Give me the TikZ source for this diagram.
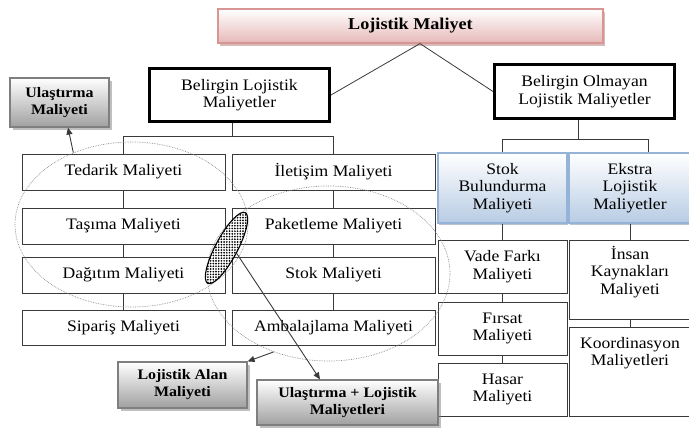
\documentclass[tikz,border=0pt]{standalone}
\usepackage{fontspec}
\setmainfont{Liberation Serif}[FakeStretch=1.1]
\usetikzlibrary{arrows.meta,shapes.geometric,patterns.meta,shadows,calc}

\definecolor{pinkB}{HTML}{D99594}
\definecolor{pinkF}{HTML}{E6B9B8}
\definecolor{blueB}{HTML}{95B3D7}
\definecolor{blueF}{HTML}{B8CCE4}
\definecolor{grayB}{HTML}{7F7F7F}
\definecolor{grayF}{HTML}{A0A0A0}
\definecolor{lineC}{HTML}{3A3A3A}

% fine dot texture for the overlap region
\tikzdeclarepattern{
  name=densedots,
  type=uncolored,
  bottom left={(-1.2pt,-1.2pt)},
  top right={(1.2pt,1.2pt)},
  tile size={(2.7pt,2.7pt)},
  code={\fill (0pt,0pt) circle [radius=0.95pt];}
}

\tikzset{
  txt/.style={font=\fontsize{16}{17.5}\selectfont},
  boldtxt/.style={font=\fontsize{14.5}{17}\selectfont\bfseries},
  box/.style={draw=lineC, line width=0.8pt, fill=white, inner sep=0pt,
    align=center, txt},
  thickbox/.style={box, draw=black, line width=3pt},
  pinkbox/.style={box, draw=pinkB, line width=1.2pt, top color=white,
    bottom color=pinkF, font=\fontsize{16.5}{17.5}\selectfont\bfseries,
    drop shadow={shadow xshift=1.5pt, shadow yshift=-2.5pt, fill=pinkB!80!black, opacity=0.5}},
  bluebox/.style={box, draw=blueB, line width=1.2pt, top color=white,
    bottom color=blueF,
    drop shadow={shadow xshift=1pt, shadow yshift=-2pt, fill=blueB!70!black, opacity=0.45}},
  graybox/.style={box, draw=grayB, line width=1.2pt, top color=white,
    bottom color=grayF, boldtxt,
    drop shadow={shadow xshift=3pt, shadow yshift=-3pt, fill=black!50, opacity=0.5}},
  conn/.style={draw=lineC, line width=0.8pt},
  arr/.style={draw=lineC, line width=0.9pt, -{Triangle[length=7pt,width=6pt]}},
  group/.style={ellipse, draw=black!45, densely dotted, line width=0.7pt,
    inner sep=0pt},
  overlap/.style={ellipse, draw=black, line width=1.1pt, inner sep=0pt,
    preaction={fill=white}, pattern=densedots, pattern color=black}
}

\begin{document}
\begin{tikzpicture}[x=1pt, y=-1pt]
  \useasboundingbox (0,0) rectangle (689,431);
  \clip (0,0) rectangle (689,431);

  % top level
  \node[pinkbox, minimum width=385pt, minimum height=34pt] (top) at (410.5,26) {Lojistik Maliyet};
  \node[thickbox, minimum width=180pt, minimum height=53pt] (bl) at (239.5,95)
    {Belirgin Lojistik\\Maliyetler};
  \node[thickbox, minimum width=180pt, minimum height=54pt] (bo) at (584.5,91.5)
    {Belirgin Olmayan\\Lojistik Maliyetler};
  \draw[conn] (bl.east) -- ([xshift=9.5pt]top.south) -- (bo.west);

  % visible logistics costs, left column
  \node[box, minimum width=203pt, minimum height=36pt] (ted) at (123.5,172) {Tedarik Maliyeti};
  \node[box, minimum width=203pt, minimum height=36pt] (tas) at (123.5,226) {Taşıma Maliyeti};
  \node[box, minimum width=203pt, minimum height=36pt] (dag) at (123.5,275) {Dağıtım Maliyeti};
  \node[box, minimum width=203pt, minimum height=35pt] (sip) at (123.5,327.5) {Sipariş Maliyeti};
  % right column
  \node[box, minimum width=203pt, minimum height=36pt] (ile) at (333.5,172) {İletişim Maliyeti};
  \node[box, minimum width=203pt, minimum height=36pt] (pak) at (333.5,226) {Paketleme Maliyeti};
  \node[box, minimum width=203pt, minimum height=36pt] (stk) at (333.5,275) {Stok Maliyeti};
  \node[box, minimum width=203pt, minimum height=35pt] (amb) at (333.5,327.5) {Ambalajlama Maliyeti};

  \draw[conn] ([xshift=-7.5pt]bl.south) -- ++(0,14);
  \draw[conn] (ted.north) -- ++(0,-17) -| (ile.north);
  \draw[conn] (ted.south) -- (tas.north);
  \draw[conn] (tas.south) -- (dag.north);
  \draw[conn] (dag.south) -- (sip.north);
  \draw[conn] (ile.south) -- (pak.north);
  \draw[conn] (pak.south) -- (stk.north);
  \draw[conn] (stk.south) -- (amb.north);

  % hidden logistics costs
  \node[bluebox, minimum width=129pt, minimum height=70pt] (sb) at (502.5,188)
    {Stok\\Bulundurma\\Maliyeti};
  \node[bluebox, minimum width=122pt, minimum height=70pt] (ek) at (630,188)
    {Ekstra\\Lojistik\\Maliyetler};
  \node[box, minimum width=129pt, minimum height=53pt] (vf) at (502.5,266.5) {Vade Farkı\\Maliyeti};
  \node[box, minimum width=129pt, minimum height=53pt] (fr) at (502.5,328.5) {Fırsat\\Maliyeti};
  \node[box, minimum width=129pt, minimum height=53pt] (hs) at (502.5,389.5) {Hasar\\Maliyeti};
  \node[box, minimum width=122pt, minimum height=79pt,
    label={[anchor=north, yshift=-3pt, align=center, txt]north:İnsan\\Kaynakları\\Maliyeti}]
    (ik) at (630,279.5) {};
  \node[box, minimum width=122pt, minimum height=89pt,
    label={[anchor=north, yshift=-7pt, align=center, txt]north:Koordinasyon\\Maliyetleri}]
    (ko) at (630,371.5) {};

  \draw[conn] ([xshift=-6.5pt]bo.south) -- ++(0,20);
  \draw[conn] (sb.north) -- ++(0,-13) -| ([xshift=18pt]ek.north);
  \draw[conn] (sb.south) -- (vf.north);
  \draw[conn] (vf.south) -- (fr.north);
  \draw[conn] (fr.south) -- (hs.north);
  \draw[conn] (ek.south) -- (ik.north);
  \draw[conn] (ik.south) -- (ko.north);

  % groupings
  \node[group, minimum width=233pt, minimum height=165pt] (ellL) at (131.5,224.5) {};
  \node[group, minimum width=243pt, minimum height=175pt] (ellR) at (328.5,273.5) {};
  \node[overlap, minimum width=80pt, minimum height=22pt, rotate=62] (hat) at (226.5,248) {};

  % result boxes
  \node[graybox, minimum width=99pt, minimum height=49pt] (ul1) at (59.5,102.5) {Ulaştırma\\Maliyeti};
  \node[graybox, minimum width=129pt, minimum height=46pt] (la) at (182.5,385) {Lojistik Alan\\Maliyeti};
  \node[graybox, minimum width=181pt, minimum height=45pt] (ul2) at (347.5,402.5)
    {Ulaştırma + Lojistik\\Maliyetleri};

  \draw[arr] (ellL.129) -- ([xshift=8.5pt]ul1.south);
  \draw[arr] (hat.south) -- ([xshift=-27.5pt]ul2.north);
  \draw[arr] (ellR.235) -- (la.north east);
\end{tikzpicture}
\end{document}
